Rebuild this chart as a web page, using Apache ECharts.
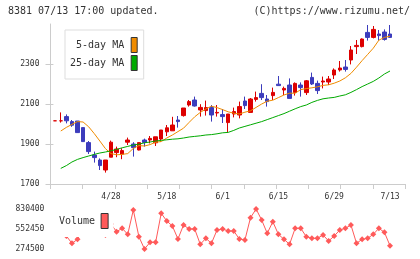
<!DOCTYPE html>
<html><head><meta charset="utf-8">
<script src="https://cdn.jsdelivr.net/npm/echarts@6/dist/echarts.min.js"></script>
<style>html,body{margin:0;padding:0;background:#fff}#c{width:420px;height:259px}</style>
</head><body><div id="c"></div>
<script>
const dates = ['4/14','4/15','4/18','4/19','4/20','4/21','4/22','4/25','4/26','4/27','4/28','5/2','5/6','5/9','5/10','5/11','5/12','5/13','5/16','5/17','5/18','5/19','5/20','5/23','5/24','5/25','5/26','5/27','5/30','5/31','6/1','6/2','6/3','6/6','6/7','6/8','6/9','6/10','6/13','6/14','6/15','6/16','6/17','6/20','6/21','6/22','6/23','6/24','6/27','6/28','6/29','6/30','7/1','7/4','7/5','7/6','7/7','7/8','7/11','7/12','7/13'];
const opens  = [2016,2016,2037,2012,2015,1982,1907,1845,1820,1770,1834,1857,1849,1909,1900,1870,1920,1920,1906,1925,1961,1966,2020,2042,2095,2120,2070,2067,2082,2055,2047,2007,2050,2045,2115,2058,2123,2153,2125,2142,2199,2170,2195,2157,2195,2157,2233,2203,2210,2210,2245,2270,2285,2320,2387,2387,2458,2433,2450,2460,2450];
const closes = [2016,2016,2016,1994,1957,1912,1862,1832,1792,1820,1909,1875,1867,1920,1882,1907,1908,1928,1936,1970,1981,1995,2012,2080,2112,2090,2083,2082,2045,2058,2037,2050,2062,2087,2092,2125,2132,2132,2112,2158,2192,2178,2128,2203,2182,2216,2200,2167,2215,2225,2270,2280,2273,2370,2393,2425,2433,2473,2442,2423,2433];
const lows   = [2016,2007,2003,1986,1956,1910,1850,1807,1770,1757,1834,1834,1824,1895,1837,1868,1887,1903,1890,1910,1940,1966,1982,2037,2087,2087,2037,2042,2012,2037,2005,1958,2033,2028,2075,2058,2112,2120,2087,2120,2192,2145,2128,2142,2137,2145,2195,2150,2178,2195,2225,2262,2262,2298,2350,2383,2417,2428,2417,2417,2433];
const highs  = [2016,2058,2048,2020,2015,1982,1915,1862,1828,1820,1917,1887,1879,1932,1909,1907,1927,1940,1936,1970,1995,2036,2040,2080,2120,2137,2099,2117,2095,2095,2075,2050,2082,2112,2137,2130,2162,2199,2145,2182,2240,2187,2228,2208,2208,2220,2257,2217,2237,2240,2278,2315,2320,2390,2420,2428,2495,2490,2470,2473,2495];
const ma5  = [null,1965,1983,1998,2012,2010,1986,1952,1915,1877,1852,1846,1848,1852,1878,1892,1890,1897,1909,1912,1930,1945,1962,1979,2008,2036,2058,2075,2089,2082,2072,2061,2054,2050,2059,2066,2083,2100,2114,2119,2132,2145,2154,2154,2172,2177,2181,2186,2193,2196,2204,2215,2231,2253,2284,2317,2348,2379,2419,2433,2439];
const ma25 = [null,1778,1792,1810,1823,1832,1840,1848,1855,1860,1866,1873,1881,1888,1895,1899,1906,1910,1915,1918,1921,1924,1926,1930,1935,1938,1941,1945,1947,1951,1956,1958,1968,1980,1988,1996,2004,2012,2022,2032,2042,2052,2064,2076,2087,2095,2108,2118,2126,2130,2133,2140,2146,2158,2172,2187,2200,2213,2230,2250,2265];
const volume = [510800,538600,455200,353700,409300,566300,608000,649700,594100,469100,621900,514900,562200,478800,816500,445400,274500,367600,367600,770600,663600,594100,413500,608000,552450,552500,339800,423200,353700,538600,552500,524700,524700,413500,399600,709500,830400,677500,492700,653900,478800,409300,339800,562200,562200,445400,423200,423200,469100,385700,455200,538600,562200,608000,353700,409300,423200,478800,562200,506600,320400];
const dateTicks = ['4/28','5/18','6/1','6/15','6/29','7/13'];
const priceTicks = [1700,1900,2100,2300];
const volumeTicks = [274500,552450,830400];

const mono = 'DejaVu Sans Mono';
const axisGray = '#cccccc';
const textCol = '#333333';
const plain = v => String(v);
const chart = echarts.init(document.getElementById('c'), null, {renderer:'canvas'});
const candleData = opens.map((o,i)=>[o, closes[i], lows[i], highs[i]]);
chart.setOption({
  animation:false,
  backgroundColor:'#ffffff',
  grid:[
    {left:52.4, top:24, width:340.4, height:160},
    {left:52.4, top:209, width:340.4, height:40},
    {left:50.5, top:24, width:354.5, height:160}
  ],
  xAxis:[
    {type:'category', gridIndex:0, data:dates, boundaryGap:true,
     axisLine:{show:false}, axisTick:{show:false}, splitLine:{show:false},
     axisLabel:{interval:(idx,val)=>dateTicks.indexOf(val)>=0, margin:9, fontSize:8, fontFamily:mono, color:textCol}},
    {type:'category', gridIndex:1, data:dates, boundaryGap:true, show:false},
    {type:'value', gridIndex:2, min:0, max:11, interval:1,
     axisLine:{show:true, lineStyle:{color:axisGray}}, axisTick:{show:true, length:5, lineStyle:{color:axisGray}},
     axisLabel:{show:false}, splitLine:{show:false}}
  ],
  yAxis:[
    {type:'value', gridIndex:0, min:1700, max:2500, offset:2,
     axisLine:{show:false}, axisTick:{show:true, inside:true, length:3, customValues:priceTicks, lineStyle:{color:axisGray}},
     axisLabel:{show:false}, splitLine:{show:false}},
    {type:'value', gridIndex:1, min:274500, max:830400,
     axisLine:{show:false}, axisTick:{show:false}, splitLine:{show:false},
     axisLabel:{customValues:volumeTicks, formatter:plain, margin:8, fontSize:8, fontFamily:mono, color:textCol}},
    {type:'value', gridIndex:2, min:1700, max:2500,
     axisLine:{show:true, lineStyle:{color:axisGray}}, axisTick:{show:true, length:5, customValues:priceTicks, lineStyle:{color:axisGray}},
     axisLabel:{customValues:priceTicks, formatter:plain, margin:11, fontSize:8, fontFamily:mono, color:textCol}, splitLine:{show:false}}
  ],
  legend:[
    {data:['5-day MA','25-day MA'], orient:'vertical', align:'right', left:65, top:30,
     itemWidth:6, itemHeight:15, itemGap:2, padding:[7,6,8,5], icon:'rect',
     backgroundColor:'#ffffff', borderColor:'#dddddd', borderWidth:1, selectedMode:false,
     itemStyle:{borderColor:'#333333', borderWidth:1},
     textStyle:{fontFamily:mono, fontSize:10, color:textCol, padding:[0,2,0,0]}},
    {data:['Volume'], orient:'vertical', align:'right', left:52, top:207,
     itemWidth:7, itemHeight:15, padding:[6,5,8,7], icon:'rect',
     backgroundColor:'#ffffff', borderWidth:0, selectedMode:false,
     itemStyle:{borderColor:'#333333', borderWidth:1},
     textStyle:{fontFamily:mono, fontSize:10, color:textCol, padding:[0,1,0,0]}}
  ],
  graphic:[
    {type:'text', left:8, top:6, style:{text:'8381 07/13 17:00 updated.', font:'10px "DejaVu Sans Mono"', fill:'#333'}},
    {type:'text', right:10, top:6, style:{text:'(C)https://www.rizumu.net/', font:'10px "DejaVu Sans Mono"', fill:'#333'}}
  ],
  series:[
    {type:'candlestick', name:'Price', xAxisIndex:0, yAxisIndex:0, data:candleData, barWidth:4, clip:false,
     itemStyle:{color:'#dd0000', color0:'#3c3cbc', borderColor:'#dd0000', borderColor0:'#3c3cbc', borderWidth:1}},
    {type:'line', name:'5-day MA', xAxisIndex:0, yAxisIndex:0, data:ma5, symbol:'none', showSymbol:false,
     color:'#f08c00', itemStyle:{color:'#f08c00'}, lineStyle:{color:'#f08c00', width:1}},
    {type:'line', name:'25-day MA', xAxisIndex:0, yAxisIndex:0, data:ma25, symbol:'none', showSymbol:false,
     color:'#00aa00', itemStyle:{color:'#00aa00'}, lineStyle:{color:'#00aa00', width:1}},
    {type:'line', name:'Volume', xAxisIndex:1, yAxisIndex:1, data:volume, symbol:'diamond', symbolSize:6,
     showSymbol:true, showAllSymbol:true, clip:false,
     color:'#ff5a5a', itemStyle:{color:'#ff5a5a'}, lineStyle:{color:'#ff5a5a', width:1}}
  ]
});
</script></body></html>
